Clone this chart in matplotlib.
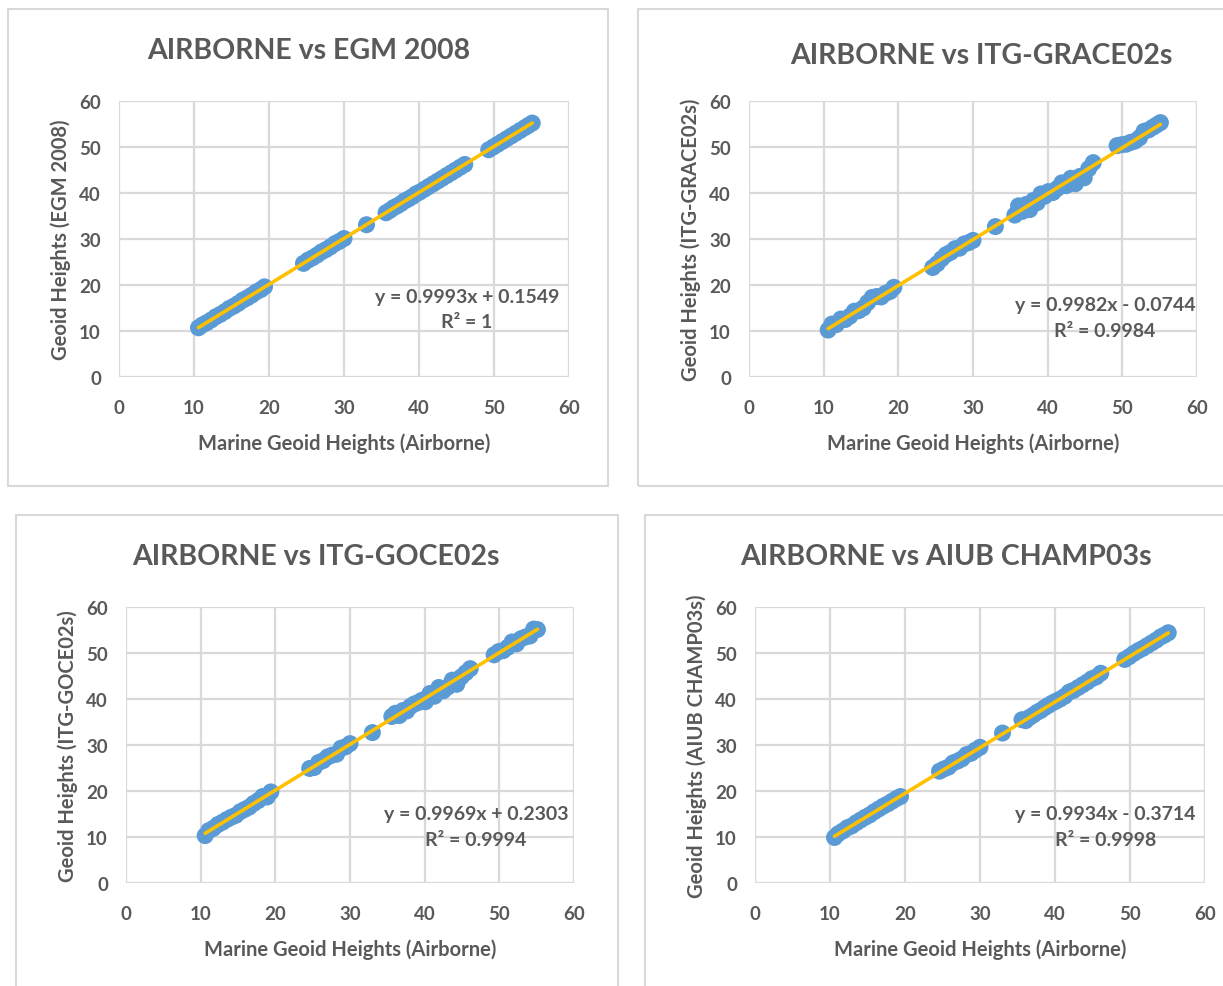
import matplotlib
matplotlib.use("Agg")
import matplotlib.pyplot as plt
from matplotlib.patches import Rectangle

plt.rcParams["font.family"] = ["Lato", "DejaVu Sans"]
plt.rcParams["font.weight"] = "bold"
plt.rcParams["axes.labelweight"] = "bold"

TEXT = "#595959"
GRID = "#D9D9D9"
BLUE = "#5B9BD5"
GOLD = "#FFC000"

# airborne marine geoid heights (shared x)
airborne = [
    10.6, 11.1, 11.7, 12.3, 12.9, 13.5, 14.1, 14.7, 15.3, 15.9, 16.5, 17.1, 17.7, 18.3, 18.9, 19.4,
    24.6, 25.2, 25.8, 26.4, 27.0, 27.6, 28.2, 28.8, 29.4, 30.0,
    33.0,
    35.6, 36.1, 36.6, 37.1, 37.6, 38.1, 38.6, 39.1, 39.6, 40.1, 40.7, 41.3, 41.9, 42.5, 43.1, 43.7, 44.3, 44.9, 45.5, 46.1,
    49.3, 49.9, 50.5, 51.1, 51.7, 52.3, 52.9, 53.5, 54.1, 54.6, 55.1,
]

egm2008 = [
    10.7, 11.3, 11.8, 12.4, 13.1, 13.6, 14.2, 14.9, 15.4, 16.0, 16.7, 17.2, 17.8, 18.5, 19.0, 19.6,
    24.7, 25.4, 25.9, 26.5, 27.2, 27.7, 28.3, 29.0, 29.5, 30.1,
    33.1,
    35.7, 36.2, 36.8, 37.2, 37.7, 38.3, 38.7, 39.2, 39.8, 40.2, 40.8, 41.4, 42.0, 42.6, 43.2, 43.8, 44.4, 45.0, 45.6, 46.2,
    49.4, 50.0, 50.6, 51.2, 51.8, 52.4, 53.0, 53.6, 54.2, 54.7, 55.2,
]

grace02s = [
    10.2, 11.5, 11.4, 12.6, 12.5, 13.2, 14.3, 14.4, 15.0, 16.2, 17.3, 17.5, 17.4, 18.2, 18.6, 19.5,
    23.8, 24.6, 25.7, 26.6, 27.1, 27.9, 28.0, 28.9, 29.2, 29.7,
    32.7,
    35.2, 37.2, 36.0, 37.5, 36.4, 38.4, 37.9, 39.8, 39.3, 40.3, 40.1, 41.0, 42.2, 41.6, 43.2, 42.0, 43.6, 43.3, 45.3, 46.6,
    50.3, 50.5, 50.6, 51.0, 51.3, 52.0, 53.4, 53.7, 54.3, 54.8, 55.3,
]

goce02s = [
    10.3, 11.4, 11.9, 12.7, 13.2, 13.8, 14.3, 14.7, 15.5, 16.0, 16.5, 17.3, 17.9, 18.8, 18.7, 19.8,
    24.9, 25.1, 26.2, 26.6, 27.4, 27.8, 28.0, 29.3, 29.6, 30.3,
    32.7,
    36.2, 36.9, 36.4, 37.5, 37.4, 38.4, 38.9, 39.2, 39.7, 39.4, 41.2, 40.6, 42.5, 41.8, 42.6, 44.1, 43.2, 44.8, 45.7, 46.6,
    49.6, 50.3, 50.5, 51.2, 52.4, 52.0, 53.1, 53.5, 53.7, 55.2, 55.1,
]

champ03s = [
    9.9, 10.7, 11.3, 12.0, 12.4, 13.1, 13.7, 14.3, 14.8, 15.5, 16.1, 16.7, 17.2, 17.8, 18.4, 18.8,
    24.3, 24.8, 25.2, 26.1, 26.5, 27.0, 27.9, 28.2, 28.9, 29.5,
    32.6,
    35.5, 35.3, 36.0, 36.5, 37.1, 37.5, 38.1, 38.6, 39.1, 39.5, 40.0, 40.6, 41.5, 41.9, 42.5, 43.1, 43.7, 44.4, 44.8, 45.6,
    48.6, 49.2, 49.9, 50.5, 51.0, 51.6, 52.2, 52.8, 53.5, 53.9, 54.4,
]

titles = ["AIRBORNE vs EGM 2008", "AIRBORNE vs ITG-GRACE02s",
          "AIRBORNE vs ITG-GOCE02s", "AIRBORNE vs AIUB CHAMP03s"]
ylabels = ["Geoid Heights (EGM 2008)", "Geoid Heights (ITG-GRACE02s)",
           "Geoid Heights (ITG-GOCE02s)", "Geoid Heights (AIUB CHAMP03s)"]
slopes = [0.9993, 0.9982, 0.9969, 0.9934]
intercepts = [0.1549, -0.0744, 0.2303, -0.3714]
eq_texts = ["y = 0.9993x + 0.1549", "y = 0.9982x - 0.0744",
            "y = 0.9969x + 0.2303", "y = 0.9934x - 0.3714"]
r2_texts = ["R² = 1", "R² = 0.9984", "R² = 0.9994", "R² = 0.9998"]
models = [egm2008, grace02s, goce02s, champ03s]

W, H = 1223, 987
fig = plt.figure(figsize=(W / 100, H / 100), dpi=100)

# pixel layout: axes box (l, t, r, b), panel frame (l, t, r, b), title centre (x, y), equation pos (data)
axes_px = [(119, 102, 569, 378), (749, 102, 1197, 378),
           (126, 608, 574, 884), (755, 608, 1205, 884)]
frame_px = [(8, 10, 608, 487), (638, 10, 1230, 487),
            (16, 516, 618, 995), (645, 516, 1230, 995)]
title_px = [(309, 51), (981, 56), (316, 557), (946, 557)]
eq_pos = [(46.4, 17.6), (47.7, 15.7), (46.9, 15.0), (46.7, 15.0)]


def fx(p):
    return p / W


def fy(p):
    return 1 - p / H


for i in range(4):
    l, t, r, b = frame_px[i]
    fig.patches.append(Rectangle((fx(l), fy(b)), fx(r - l), (b - t) / H,
                                 transform=fig.transFigure, fill=False,
                                 edgecolor=GRID, linewidth=1.5, zorder=0))

    l, t, r, b = axes_px[i]
    ax = fig.add_axes([fx(l), fy(b), fx(r - l), (b - t) / H])
    x = airborne
    y = models[i]
    ax.scatter(x, y, s=150, color=BLUE, edgecolors="none", zorder=3)
    x0, x1 = min(x), max(x)
    ax.plot([x0, x1], [slopes[i] * x0 + intercepts[i], slopes[i] * x1 + intercepts[i]],
            color=GOLD, linewidth=2.6, zorder=4, solid_capstyle="round")

    ax.set_xlim(0, 60)
    ax.set_ylim(0, 60)
    ax.set_xticks(range(0, 61, 10))
    ax.set_yticks(range(0, 61, 10))
    ax.grid(True, color=GRID, linewidth=1.6, zorder=0)
    ax.set_axisbelow(True)
    for s in ax.spines.values():
        s.set_visible(False)
    ax.tick_params(length=0, labelsize=13.5, labelcolor=TEXT)
    ax.tick_params(axis="x", pad=16)
    ax.tick_params(axis="y", pad=13)
    ax.set_xlabel("Marine Geoid Heights (Airborne)", fontsize=14.5, color=TEXT, labelpad=12)
    ax.set_ylabel(ylabels[i], fontsize=14.5, color=TEXT, labelpad=6)

    ex, ey = eq_pos[i]
    ax.text(ex, ey, eq_texts[i], ha="center", va="center", fontsize=14, color=TEXT, zorder=5)
    ax.text(ex, ey - 5.6, r2_texts[i], ha="center", va="center", fontsize=14, color=TEXT, zorder=5)

    tx, ty = title_px[i]
    fig.text(fx(tx), fy(ty), titles[i], ha="center", va="center", fontsize=20.5, color=TEXT)

fig.savefig("out.png", dpi=100)
